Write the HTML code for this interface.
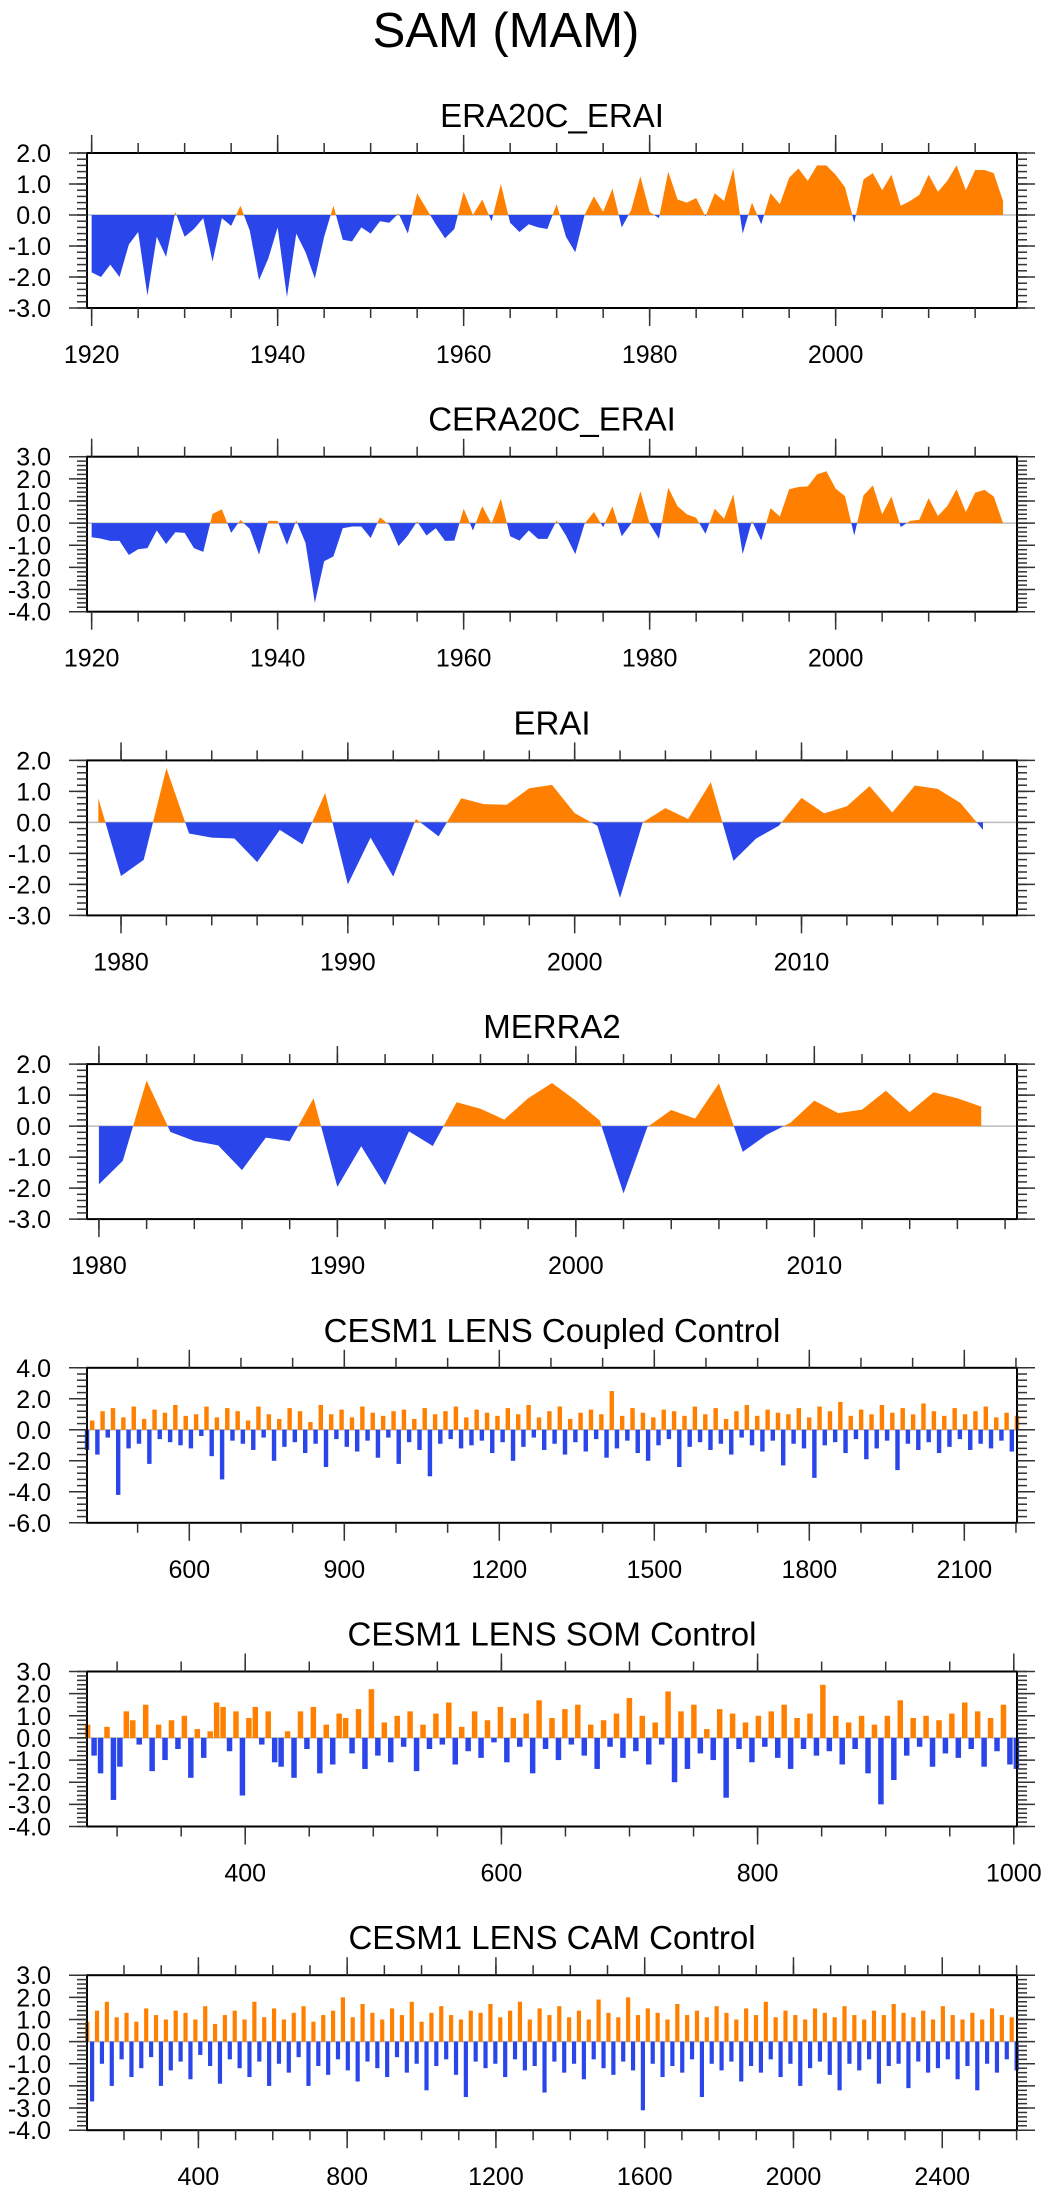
<!DOCTYPE html>
<html><head><meta charset="utf-8"><title>SAM (MAM)</title>
<style>
html,body{margin:0;padding:0;background:#fff;}
svg{display:block;font-family:"Liberation Sans",Arial,sans-serif;}
</style></head>
<body>
<svg id="chart" width="1049" height="2192" viewBox="0 0 1049 2192" xmlns="http://www.w3.org/2000/svg">
<rect x="0" y="0" width="1049" height="2192" fill="#fff"/>
<text x="506" y="47" font-size="49" text-anchor="middle" fill="#000">SAM (MAM)</text>
</svg>
<script>
// ---- data ----
const era20cYears0 = 1920;
const era20cValues = [-1.85,-2.0,-1.6,-2.0,-0.95,-0.55,-2.6,-0.7,-1.35,0.1,-0.7,-0.45,-0.1,-1.5,-0.1,-0.35,0.3,-0.5,-2.1,-1.4,-0.4,-2.65,-0.6,-1.2,-2.05,-0.7,0.3,-0.8,-0.85,-0.4,-0.6,-0.2,-0.25,0.05,-0.6,0.7,0.2,-0.3,-0.75,-0.45,0.75,0.0,0.5,-0.2,1.0,-0.25,-0.55,-0.3,-0.4,-0.45,0.35,-0.7,-1.2,0.0,0.6,0.1,0.85,-0.4,0.15,1.25,0.1,-0.1,1.4,0.5,0.4,0.55,-0.05,0.7,0.45,1.5,-0.6,0.4,-0.3,0.7,0.35,1.2,1.5,1.1,1.6,1.6,1.3,0.9,-0.25,1.15,1.35,0.8,1.3,0.3,0.45,0.65,1.3,0.75,1.1,1.6,0.8,1.45,1.45,1.35,0.45];
const cera20cYears0 = 1920;
const cera20cValues = [-0.64,-0.7,-0.8,-0.8,-1.44,-1.18,-1.13,-0.33,-0.94,-0.41,-0.44,-1.13,-1.3,0.42,0.62,-0.44,0.14,-0.26,-1.42,0.1,0.1,-0.98,0.12,-0.9,-3.6,-1.72,-1.5,-0.23,-0.15,-0.15,-0.67,0.26,-0.08,-1.04,-0.56,0.08,-0.56,-0.23,-0.8,-0.79,0.65,-0.33,0.77,-0.03,1.1,-0.59,-0.79,-0.33,-0.71,-0.71,0.12,-0.56,-1.4,-0.03,0.5,-0.18,0.76,-0.59,-0.03,1.44,-0.03,-0.71,1.6,0.76,0.4,0.24,-0.48,0.65,0.2,1.3,-1.4,0.1,-0.79,0.68,0.3,1.53,1.63,1.66,2.2,2.34,1.56,1.22,-0.56,1.26,1.7,0.4,1.2,-0.18,0.1,0.15,1.13,0.32,0.77,1.53,0.5,1.38,1.5,1.2,0.0];
const eraiYears0 = 1979;
const eraiValues = [0.78,-1.73,-1.21,1.75,-0.36,-0.49,-0.52,-1.28,-0.24,-0.71,0.95,-2.0,-0.49,-1.75,0.11,-0.45,0.78,0.59,0.57,1.1,1.21,0.3,-0.11,-2.43,0.0,0.46,0.11,1.3,-1.24,-0.52,-0.11,0.79,0.29,0.52,1.17,0.32,1.19,1.08,0.63,-0.24];
const merra2Years0 = 1980;
const merra2Values = [-1.88,-1.12,1.47,-0.19,-0.48,-0.62,-1.42,-0.37,-0.49,0.9,-1.96,-0.65,-1.9,-0.17,-0.64,0.77,0.56,0.21,0.9,1.39,0.82,0.18,-2.17,-0.03,0.52,0.24,1.38,-0.83,-0.28,0.11,0.82,0.42,0.53,1.14,0.45,1.09,0.9,0.63];
const coupledValues = [-1.3,0.6,-1.6,1.2,-0.5,1.4,-4.2,0.8,-1.2,1.5,-0.9,0.7,-2.2,1.3,-0.6,1.1,-0.8,1.6,-1.0,0.9,
-1.2,1.0,-0.4,1.5,-1.7,0.8,-3.2,1.4,-0.7,1.2,-0.9,0.6,-1.3,1.5,-0.5,1.0,-2.0,0.7,-1.1,1.4,
-0.8,1.2,-1.5,0.5,-0.9,1.6,-2.4,1.0,-0.6,1.3,-1.1,0.8,-1.4,1.5,-0.7,1.1,-1.8,0.9,-0.5,1.2,
-2.2,1.3,-0.8,0.7,-1.3,1.4,-3.0,1.0,-0.9,1.2,-0.6,1.5,-1.2,0.8,-1.0,1.3,-0.7,1.1,-1.5,0.9,
-0.8,1.4,-2.0,1.0,-1.1,1.6,-0.5,0.8,-1.3,1.2,-0.9,1.5,-1.6,0.7,-0.8,1.1,-1.4,1.3,-0.6,1.0,
-1.8,2.5,-1.2,0.9,-0.7,1.4,-1.5,1.1,-2.0,0.8,-1.0,1.3,-0.6,1.2,-2.4,0.9,-1.1,1.5,-0.8,1.0,
-1.3,1.4,-0.9,0.7,-1.6,1.2,-0.5,1.6,-1.0,0.9,-1.4,1.3,-0.7,1.1,-2.3,1.0,-0.9,1.4,-1.2,0.8,
-3.1,1.5,-1.0,1.2,-0.8,1.8,-1.5,0.9,-0.6,1.3,-1.9,1.0,-1.2,1.6,-0.7,1.1,-2.6,1.4,-0.9,1.0,
-1.3,1.7,-0.8,1.2,-1.5,0.9,-1.1,1.4,-0.6,1.0,-1.3,1.2,-0.9,1.5,-1.2,0.8,-0.7,1.1,-1.4,0.9];
const somValues = [0.6,-0.8,-1.6,0.5,-2.8,-1.3,1.2,0.8,-0.3,1.5,-1.5,0.6,-1.0,0.8,-0.5,1.0,-1.8,0.4,-0.9,0.3,
1.6,1.4,-0.6,1.2,-2.6,0.9,1.4,-0.3,1.2,-1.1,-1.3,0.3,-1.8,1.2,-0.5,1.4,-1.6,0.6,-1.2,1.1,
0.9,-0.7,1.3,-1.4,2.2,-0.8,0.7,-1.1,1.0,-0.4,1.2,-1.5,0.6,-0.5,1.1,-0.3,1.6,-1.2,0.5,-0.6,
1.2,-0.9,0.8,-0.2,1.4,-1.1,0.9,-0.4,1.1,-1.6,1.7,-0.5,0.9,-1.0,1.3,-0.3,1.5,-0.8,0.6,-1.4,
0.8,-0.4,1.1,-0.9,1.8,-0.6,1.0,-1.2,0.7,-0.3,2.1,-2.0,1.2,-1.4,1.5,-0.7,0.4,-1.0,1.3,-2.7,
1.1,-0.5,0.7,-1.1,1.0,-0.4,1.2,-0.9,1.5,-1.4,0.9,-0.5,1.1,-0.8,2.4,-0.6,1.0,-1.2,0.7,-0.5,
1.0,-1.6,0.6,-3.0,1.0,-1.9,1.7,-0.8,0.9,-0.4,1.0,-1.3,0.8,-0.7,1.1,-0.9,1.6,-0.5,1.2,-1.3,
0.9,-0.6,1.5,-1.2,-1.4];
const camValues = [0.9,-2.7,1.4,-1.0,1.8,-2.0,1.1,-0.8,1.3,-1.6,0.9,-1.2,1.5,-0.7,1.2,-2.0,1.0,-1.3,1.4,-0.9,
1.3,-1.7,1.0,-0.6,1.6,-1.1,0.8,-1.9,1.2,-0.8,1.4,-1.2,1.0,-1.6,1.8,-0.9,1.1,-2.0,1.5,-1.0,
1.0,-1.4,1.3,-0.7,1.6,-2.0,0.9,-1.1,1.2,-1.5,1.4,-0.8,2.0,-1.3,1.1,-1.8,1.7,-0.9,1.3,-1.2,
1.0,-1.6,1.5,-0.7,1.2,-1.4,1.8,-1.0,0.9,-2.2,1.3,-1.1,1.6,-0.8,1.2,-1.5,1.0,-2.5,1.4,-0.9,
1.3,-1.2,1.7,-1.0,1.1,-1.6,1.4,-0.8,1.8,-1.3,1.0,-1.1,1.5,-2.3,1.2,-0.9,1.6,-1.4,1.1,-1.0,
1.4,-1.7,1.0,-0.8,1.9,-1.2,1.3,-1.5,1.1,-0.9,2.0,-1.3,1.2,-3.1,1.5,-1.0,1.3,-1.6,1.0,-1.1,
1.7,-1.4,1.2,-0.8,1.4,-2.5,1.1,-1.0,1.6,-1.3,1.3,-0.9,1.0,-1.8,1.5,-1.1,1.2,-1.4,1.8,-0.8,
1.1,-1.6,1.4,-1.0,1.2,-2.0,1.0,-1.2,1.5,-0.9,1.3,-1.5,1.1,-2.2,1.6,-1.0,1.2,-1.3,1.0,-0.8,
1.4,-1.9,1.2,-1.1,1.7,-1.0,1.3,-2.1,1.1,-0.9,1.4,-1.4,1.0,-1.2,1.6,-0.8,1.2,-1.7,1.0,-1.1,
1.3,-2.2,1.0,-1.0,1.5,-1.4,1.2,-0.8,1.1,-1.3];
const panelTitles = ["ERA20C_ERAI","CERA20C_ERAI","ERAI","MERRA2","CESM1 LENS Coupled Control","CESM1 LENS SOM Control","CESM1 LENS CAM Control"];
const xMajorTicks1 = [1920,1940,1960,1980,2000];
const xMajorTicks3 = [1980,1990,2000,2010];
const xMajorTicks5 = [600,900,1200,1500,1800,2100];
const xMajorTicks6 = [400,600,800,1000];
const xMajorTicks7 = [400,800,1200,1600,2000,2400];

const NS = "http://www.w3.org/2000/svg";
const svg = document.getElementById('chart');
const ORANGE = "#ff8000", BLUE = "#2a45ea";
const L = 87, R = 1017;

function mk(tag, attrs, parent){
  const e = document.createElementNS(NS, tag);
  for (const k in attrs) e.setAttribute(k, attrs[k]);
  (parent||svg).appendChild(e);
  return e;
}
function range(a,b,s){const r=[];for(let v=a;v<=b+1e-9;v+=s)r.push(Math.round(v*1000)/1000);return r;}

const panels = [
 {name:"era20c-erai", x0:1919.5,x1:2019.5,y0:-3,y1:2,yMaj:1,yMin:0.2,xMaj:xMajorTicks1,xMin:range(1920,2015,5),type:"area",start:era20cYears0,step:1,vals:era20cValues},
 {name:"cera20c-erai",x0:1919.5,x1:2019.5,y0:-4,y1:3,yMaj:1,yMin:0.2,xMaj:xMajorTicks1,xMin:range(1920,2015,5),type:"area",start:cera20cYears0,step:1,vals:cera20cValues},
 {name:"erai",        x0:1978.5,x1:2019.5,y0:-3,y1:2,yMaj:1,yMin:0.2,xMaj:xMajorTicks3,xMin:range(1980,2018,2),type:"area",start:eraiYears0,step:1,vals:eraiValues},
 {name:"merra2",      x0:1979.5,x1:2018.5,y0:-3,y1:2,yMaj:1,yMin:0.2,xMaj:xMajorTicks3,xMin:range(1980,2018,2),type:"area",start:merra2Years0,step:1,vals:merra2Values},
 {name:"cesm-coupled",x0:402,x1:2202,y0:-6,y1:4,yMaj:2,yMin:0.4,xMaj:xMajorTicks5,xMin:range(500,2200,100),type:"bar",start:402,end:2202,vals:coupledValues},
 {name:"cesm-som",    x0:276.5,x1:1002.5,y0:-4,y1:3,yMaj:1,yMin:0.2,xMaj:xMajorTicks6,xMin:range(300,1000,50),type:"bar",start:277,end:1002,vals:somValues},
 {name:"cesm-cam",    x0:100.5,x1:2601,y0:-4,y1:3,yMaj:1,yMin:0.2,xMaj:xMajorTicks7,xMin:range(200,2600,100),type:"bar",start:101,end:2600,vals:camValues}
];

panels.forEach((p,i)=>{
  const top = 153 + i*303.7, H = 155, bot = top + H;
  const g = mk('g',{});
  
  
  const X = v => L + (v - p.x0)/(p.x1 - p.x0)*(R-L);
  const Y = v => bot - (v - p.y0)/(p.y1 - p.y0)*H;
  const z = Y(0);

  const t = mk('text',{x:552,y:top-26,'font-size':33,'text-anchor':'middle',fill:'#000'},g);
  t.textContent = panelTitles[i];
  
  

  const zl = mk('line',{x1:L,x2:R,y1:z,y2:z,stroke:'#bdbdbd','stroke-width':1.5},g);
  
  

  if (p.type === 'area'){
    const pts = p.vals.map((v,k)=>[p.start + k*p.step, v]);
    ['pos','neg'].forEach(sign=>{
      const clip = v => sign==='pos' ? Math.max(v,0) : Math.min(v,0);
      const seq = [];
      for (let k=0;k<pts.length;k++){
        if (k>0){
          const [xa,va]=pts[k-1],[xb,vb]=pts[k];
          if ((va>0&&vb<0)||(va<0&&vb>0)){
            seq.push([xa + (xb-xa)*(va/(va-vb)),0]);
          }
        }
        seq.push([pts[k][0], clip(pts[k][1])]);
      }
      let d = 'M' + X(seq[0][0]).toFixed(2) + ',' + z.toFixed(2);
      seq.forEach(s=>{ d += 'L' + X(s[0]).toFixed(2) + ',' + Y(s[1]).toFixed(2); });
      d += 'L' + X(seq[seq.length-1][0]).toFixed(2) + ',' + z.toFixed(2) + 'Z';
      const a = mk('path',{d:d,fill: sign==='pos'?ORANGE:BLUE,stroke:'none'},g);
      
      
    });
  } else {
    const n = p.vals.length;
    const stepYrs = (p.end - p.start)/(n-1);
    const w = Math.max(1.4, (X(p.start+stepYrs)-X(p.start))*0.85);
    p.vals.forEach((v,k)=>{
      const xv = X(p.start + k*stepYrs);
      const y1 = Math.min(Y(v), z), h = Math.abs(Y(v)-z);
      const b = mk('rect',{x:(xv-w/2).toFixed(2),y:y1.toFixed(2),width:w.toFixed(2),height:h.toFixed(2),fill: v>=0?ORANGE:BLUE},g);
      
      
    });
  }

  const fr = mk('rect',{x:L,y:top,width:R-L,height:H,fill:'none',stroke:'#000','stroke-width':2},g);
  
  

  const tk = mk('g',{stroke:'#333','stroke-width':1.5},g);
  
  
  p.xMin.forEach(v=>{ const x=X(v); if(x<L||x>R) return;
    mk('line',{x1:x,x2:x,y1:top,y2:top-10},tk); mk('line',{x1:x,x2:x,y1:bot,y2:bot+10},tk); });
  p.xMaj.forEach(v=>{ const x=X(v);
    mk('line',{x1:x,x2:x,y1:top,y2:top-18},tk); mk('line',{x1:x,x2:x,y1:bot,y2:bot+18},tk);
    const lb = mk('text',{x:x,y:bot+55,'font-size':25,'text-anchor':'middle',fill:'#000',stroke:'none'},g);
    lb.textContent = String(v);
    
    
  });
  range(p.y0,p.y1,p.yMin).forEach(v=>{ const y=Y(v);
    mk('line',{x1:L,x2:L-10,y1:y,y2:y},tk); mk('line',{x1:R,x2:R+10,y1:y,y2:y},tk); });
  range(p.y0,p.y1,p.yMaj).forEach(v=>{ const y=Y(v);
    mk('line',{x1:L,x2:L-18,y1:y,y2:y},tk); mk('line',{x1:R,x2:R+18,y1:y,y2:y},tk);
    const lb = mk('text',{x:51,y:y+9,'font-size':25,'text-anchor':'end',fill:'#000',stroke:'none'},g);
    lb.textContent = (Math.abs(v)<1e-9?0:v).toFixed(1);
    
    
  });
});
</script>
</body></html>
